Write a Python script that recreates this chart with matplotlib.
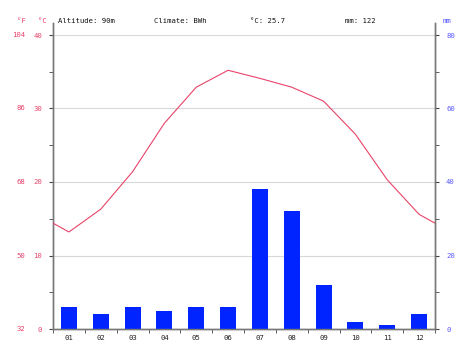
import matplotlib
matplotlib.use("Agg")
import matplotlib.pyplot as plt
import matplotlib.transforms as mtransforms
import numpy as np

months = ["01", "02", "03", "04", "05", "06", "07", "08", "09", "10", "11", "12"]
temp_c = [13.2, 16.3, 21.4, 28.0, 32.9, 35.2, 34.1, 32.9, 31.0, 26.5, 20.3, 15.6]
precip_mm = [6, 4, 6, 5, 6, 6, 38, 32, 12, 2, 1, 4]
c_ticks = [0, 10, 20, 30, 40]
f_labels = ["32", "50", "68", "86", "104"]
mm_ticks = [0, 20, 40, 60, 80]
header = [("Altitude: 90m", 58), ("Climate: BWh", 154), ("°C: 25.7", 250), ("mm: 122", 345)]

FONT = "DejaVu Sans Mono"
FS = 5.2
RED = "#e8436a"
BLUE = "#5a5aff"
BAR = "#0024ff"
SPINE = "#777777"

W, H = 470, 353
fig = plt.figure(figsize=(W / 100, H / 100), dpi=100)
left, right, bottom, top = 53, 435, 329, 23
ax = fig.add_axes([left / W, (H - bottom) / H, (right - left) / W, (bottom - top) / H])
ax2 = ax.twinx()

ytop = 40 * (bottom - top) / (bottom - 35)
ax.set_ylim(0, ytop)
ax2.set_ylim(0, ytop * 2)
x = np.arange(12)
ax.set_xlim(-0.5, 11.5)

for v in c_ticks[1:]:
    ax.axhline(v, color="#d8d8d8", lw=0.8, zorder=0)

ax2.bar(x, precip_mm, width=0.5, color=BAR, zorder=2)
xe = np.concatenate([[-0.5], x, [11.5]])
edge = (temp_c[0] + temp_c[-1]) / 2
te = np.concatenate([[edge], temp_c, [edge]])
ax2.plot(xe, np.array(te) * 2, color=RED, lw=0.8, zorder=3)

ax.set_zorder(0)
ax.patch.set_visible(False)

for a in (ax, ax2):
    a.spines["top"].set_visible(False)
    for s in a.spines.values():
        s.set_color(SPINE)
        s.set_linewidth(1.0)

ax.set_yticks(c_ticks)
ax.set_yticks([5, 15, 25, 35], minor=True)
ax.set_yticklabels([str(v) for v in c_ticks], color=RED, fontsize=FS, family=FONT)
ax.tick_params(axis="y", which="both", length=3, color="#444444", pad=5)

ax2.set_yticks(mm_ticks)
ax2.set_yticks([10, 30, 50, 70], minor=True)
ax2.set_yticklabels([str(v) for v in mm_ticks], color=BLUE, fontsize=FS, family=FONT)
ax2.tick_params(axis="y", which="both", length=3, color="#444444", pad=5)

ax.set_xticks(x)
ax.set_xticklabels(months, fontsize=FS, family=FONT, color="#222222")
ax.set_xticks(np.arange(-0.5, 12, 1), minor=True)
ax.tick_params(axis="x", which="major", length=0, pad=4)
ax.tick_params(axis="x", which="minor", length=3, color="#444444")

trans = mtransforms.blended_transform_factory(fig.transFigure, ax.transData)
for v, lab in zip(c_ticks, f_labels):
    ax.text(25 / W, v, lab, transform=trans, ha="right", va="center",
            color=RED, fontsize=FS, family=FONT)

yh = 1 - 21 / H
fig.text(17 / W, yh, "°F", color=RED, fontsize=FS, family=FONT, va="center")
fig.text(38 / W, yh, "°C", color=RED, fontsize=FS, family=FONT, va="center")
for t, px in header:
    fig.text(px / W, yh, t, color="#111111", fontsize=FS, family=FONT, va="center")
fig.text(443 / W, yh, "mm", color=BLUE, fontsize=FS, family=FONT, va="center")

fig.savefig("out.png", dpi=100)
